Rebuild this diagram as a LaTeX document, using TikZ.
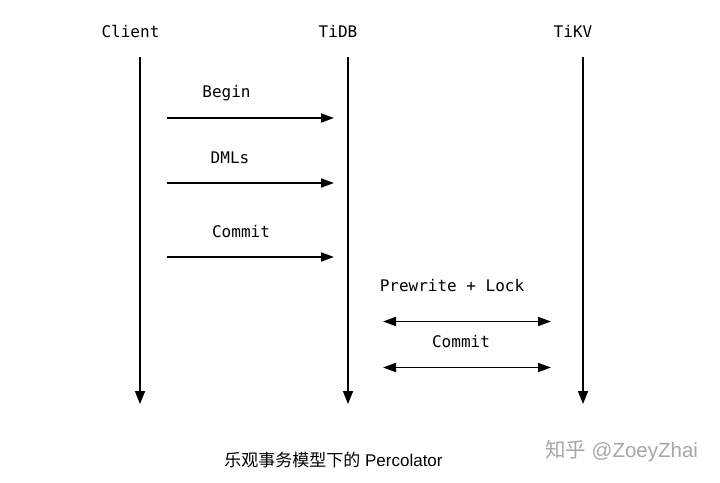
\documentclass[tikz,border=0pt]{standalone}
\usepackage{fontspec}
\setmonofont{DejaVu Sans Mono}
\setsansfont{Liberation Sans}
\newfontfamily\cjk{Noto Sans CJK SC}
\usetikzlibrary{arrows.meta,calc,positioning}
\tikzstyle{every node}+=[inner sep=0pt]
\tikzset{
	lifeline/.style={line width=1.8pt,-{Triangle[length=13pt,width=10pt]}},
	msg/.style={line width=1.8pt,-{Triangle[length=13pt,width=9pt]}},
	twoway/.style={line width=1.8pt,{Triangle[length=13pt,width=9pt]}-{Triangle[length=13pt,width=9pt]}},
	actor/.style={font=\fontsize{16}{18}\selectfont\ttfamily},
	msgtext/.style={font=\fontsize{16}{18}\selectfont\ttfamily}
}
\newcommand{\drawarrows}[2][\empty]{
	\foreach \a/\b in {#2}{
		\draw[#1] (\a) -- (\b);
	}
}

\begin{document}
\begin{tikzpicture}[x=1pt,y=-1pt]
\useasboundingbox (0,0) rectangle (720,482);

% the three parties
\node[actor] (client) at (130.5,31) {Client};
\node[actor] (tidb) at (338,31) {TiDB};
\node[actor] (tikv) at (573,31) {TiKV};

\coordinate (c0) at (140,57);
\coordinate (c1) at (140,404);
\coordinate (d0) at (348,57);
\coordinate (d1) at (348,404);
\coordinate (k0) at (583,57);
\coordinate (k1) at (583,404);
\drawarrows[lifeline]{c0/c1,d0/d1,k0/k1}

% client -> tidb
\node[msgtext] (begin) at (226.5,93) {Begin};
\node[msgtext] (dmls) at (230,158) {DMLs};
\node[msgtext] (commit) at (241,232) {Commit};

\coordinate (b0) at (167,118);
\coordinate (b1) at (334,118);
\coordinate (m0) at (167,183);
\coordinate (m1) at (334,183);
\coordinate (e0) at (167,257);
\coordinate (e1) at (334,257);
\drawarrows[msg]{b0/b1,m0/m1,e0/e1}

% tidb <-> tikv
\node[msgtext] (prewrite) at (452,286) {Prewrite + Lock};
\node[msgtext] (commit2) at (461,342) {Commit};

\coordinate (p0) at (383,321.5);
\coordinate (p1) at (551,321.5);
\coordinate (q0) at (383,367.5);
\coordinate (q1) at (551,367.5);
\drawarrows[twoway]{p0/p1,q0/q1}

% caption and mark
\node[font=\fontsize{17}{20}\selectfont\sffamily] (caption) at (333.5,460) {{\cjk 乐观事务模型下的} Percolator};
\node[font=\fontsize{20.5}{24}\selectfont\sffamily,text=black!35] (mark) at (621.5,451) {{\cjk 知乎} @ZoeyZhai};
\end{tikzpicture}
\end{document}
